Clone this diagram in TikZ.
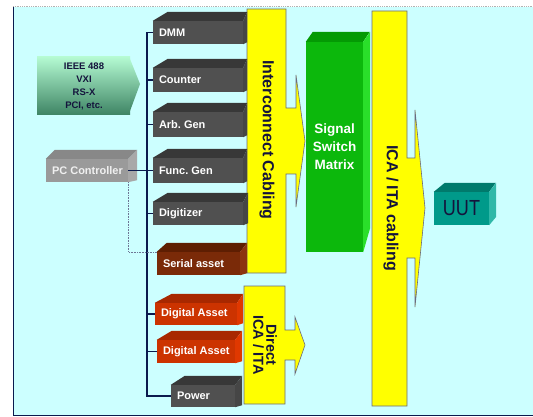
\documentclass[tikz,border=0pt]{standalone}
\usepackage{fontspec}
\setmainfont{Liberation Sans}
\usetikzlibrary{calc}
\frenchspacing

\definecolor{panel}{HTML}{CCFFFF}
\definecolor{busline}{HTML}{0B1A4E}
\definecolor{ink}{HTML}{14143C}
\definecolor{greyF}{HTML}{505050}
\definecolor{greyT}{HTML}{383838}
\definecolor{greyS}{HTML}{464646}
\definecolor{rustF}{HTML}{7A2A08}
\definecolor{rustT}{HTML}{5E1E02}
\definecolor{rustS}{HTML}{8C3410}
\definecolor{redF}{HTML}{CC3300}
\definecolor{redT}{HTML}{A82800}
\definecolor{redS}{HTML}{E03800}
\definecolor{pcF}{HTML}{9A9A9A}
\definecolor{pcT}{HTML}{888888}
\definecolor{pcS}{HTML}{A8A8A8}
\definecolor{swF}{HTML}{0CB80C}
\definecolor{swT}{HTML}{049A04}
\definecolor{swS}{HTML}{2ADF2A}
\definecolor{uutF}{HTML}{009A8A}
\definecolor{uutT}{HTML}{007A6C}
\definecolor{uutS}{HTML}{30B8A8}
\definecolor{cable}{HTML}{FFFF00}
\definecolor{cableedge}{HTML}{6A6A80}
\definecolor{mintT}{HTML}{B4FAD2}
\definecolor{mintM}{HTML}{7FCCA2}
\definecolor{mintB}{HTML}{3E8464}

\tikzset{
  rack/.style={inner xsep=6pt, inner ysep=0pt, text=white,
    font=\bfseries\fontsize{11}{12}\selectfont},
  bus/.style={draw=busline, line width=1.4pt},
  dotlink/.style={draw=busline!60, line width=0.6pt, densely dotted},
  cablearrow/.style={fill=cable, draw=cableedge, line width=0.6pt},
  cabletext/.style={text=ink, font=\bfseries\fontsize{16}{18}\selectfont, rotate=-90},
  mint/.style={top color=mintT, middle color=mintM, bottom color=mintB},
}

% front face as a named node, with the top and side faces added around it
% #1 name, #2 left, #3 top, #4 right, #5 bottom, #6 colour set, #7 top slant, #8 side width, #9 text
\newcommand{\rackbox}[9]{%
  \pgfmathsetmacro\rbw{#4-#2}%
  \pgfmathsetmacro\rbh{#5-#3}%
  \pgfmathsetmacro\rbt{#4-#2-12}%
  \node[rack, fill=#6F, minimum width=\rbw pt, minimum height=\rbh pt]
    (#1) at ({(#2+#4)/2},{(#3+#5)/2}) {\makebox[\rbt pt][l]{#9}};
  \fill[#6T] (#1.north west) -- ++(#7,-9) -- ($(#1.north east)+(#8,-9)$) -- (#1.north east) -- cycle;
  \fill[#6S] (#1.north east) -- ++(#8,-9) -- ($(#1.south east)+(#8,-2)$) -- (#1.south east) -- cycle;
}

\begin{document}
\begin{tikzpicture}[x=1pt, y=-1pt]
  \useasboundingbox (0,0) rectangle (533,417);
  \fill[white] (0,0) rectangle (533,417);

  % background panel
  \fill[panel] (13,7) rectangle (533,415);
  \draw[gray!60, densely dotted, line width=0.8pt] (13,6.5) -- (533,6.5);
  \draw[busline, line width=1pt] (13,7) -- (13,416);
  \draw[busline, line width=1.3pt] (13,415.8) -- (533,415.8);

  % bus interface arrow
  \shade[mint] (37,57) -- (130,57) -- (130,115) -- (37,115) -- cycle;
  \shade[mint] (130,59) -- (140,84) -- (130,111) -- cycle;
  \node[text=ink, align=center, font=\bfseries\fontsize{9.5}{13}\selectfont] (busif) at (84,86)
    {IEEE 488\\VXI\\RS-X\\PCI, etc.};

  % yellow cabling arrows
  \draw[cablearrow] (247,9) -- (286,9) -- (286,108) -- (296,108) -- (296,75) -- (305,141)
    -- (296,207) -- (296,174) -- (286,174) -- (286,273) -- (247,273) -- cycle;
  \node[cabletext] (icc) at (267,140) {Interconnect Cabling};

  \draw[cablearrow] (372,11) -- (407,11) -- (407,158) -- (415,158) -- (415,110) -- (425,208)
    -- (415,307) -- (415,258) -- (407,258) -- (407,406) -- (372,406) -- cycle;
  \node[cabletext] (ica) at (391,208) {ICA / ITA cabling};

  \draw[cablearrow] (244,286) -- (285,286) -- (285,330) -- (295,330) -- (295,317) -- (305,345)
    -- (295,374) -- (295,360) -- (285,360) -- (285,404) -- (244,404) -- cycle;
  \node[cabletext, align=center, font=\bfseries\fontsize{14.5}{13}\selectfont] (direct) at (265,345)
    {Direct\\ICA / ITA};

  % signal switch matrix
  \node[fill=swF, minimum width=57pt, minimum height=210pt, inner sep=0pt, align=center,
    text=white, font=\bfseries\fontsize{13.5}{18}\selectfont] (ssm) at (334.5,147)
    {Signal\\Switch\\Matrix};
  \fill[swT] (ssm.north west) -- ++(7,-10) -- ++(57,0) -- (ssm.north east) -- cycle;
  \fill[swS] (ssm.north east) -- ++(7,-10) -- ++(0,196) -- (ssm.south east) -- cycle;

  % unit under test
  \node[fill=uutF, minimum width=55pt, minimum height=33pt, inner sep=0pt, text=ink,
    font=\fontsize{19}{20}\selectfont] (uut) at (461.5,208.5) {\scalebox{0.95}[1.15]{UUT}};
  \fill[uutT] (uut.north west) -- ++(11,-9) -- ++(51,0) -- (uut.north east) -- cycle;
  \fill[uutS] (uut.north east) -- ++(7,-9) -- ++(0,34) -- (uut.south east) -- cycle;

  % instruments
  \rackbox{dmm}{153}{21}{243}{44}{grey}{15}{4}{DMM}
  \rackbox{counter}{153}{68}{243}{92}{grey}{15}{4}{Counter}
  \rackbox{arb}{153}{112}{243}{137}{grey}{15}{4}{Arb. Gen}
  \rackbox{func}{153}{158}{243}{183}{grey}{15}{4}{Func. Gen}
  \rackbox{digi}{153}{202}{243}{225}{grey}{15}{5}{Digitizer}
  \rackbox{serial}{157}{252}{240}{275}{rust}{10}{7}{Serial asset}
  \rackbox{dig1}{155}{303}{237}{325}{red}{17}{6}{Digital Asset}
  \rackbox{dig2}{157}{340}{235}{363}{red}{15}{7}{Digital Asset}
  \rackbox{power}{171}{385}{235}{407}{grey}{14}{7}{Power}
  \rackbox{pc}{46}{159}{128}{182}{pc}{9}{9}{\textcolor{white!94!black}{PC Controller}}

  % instrument bus
  \coordinate (busx) at (147,0);
  \draw[bus] (dmm.west) -- (dmm.west -| busx) |- (power.west);
  \foreach \n in {counter, arb, func, digi, dig1, dig2}
    \draw[bus] (\n.west) -- (\n.west -| busx);
  \draw[bus] (pc.east) -- (pc.east -| busx);
  \draw[dotlink] (pc.south east) |- (serial.north west);
\end{tikzpicture}
\end{document}
